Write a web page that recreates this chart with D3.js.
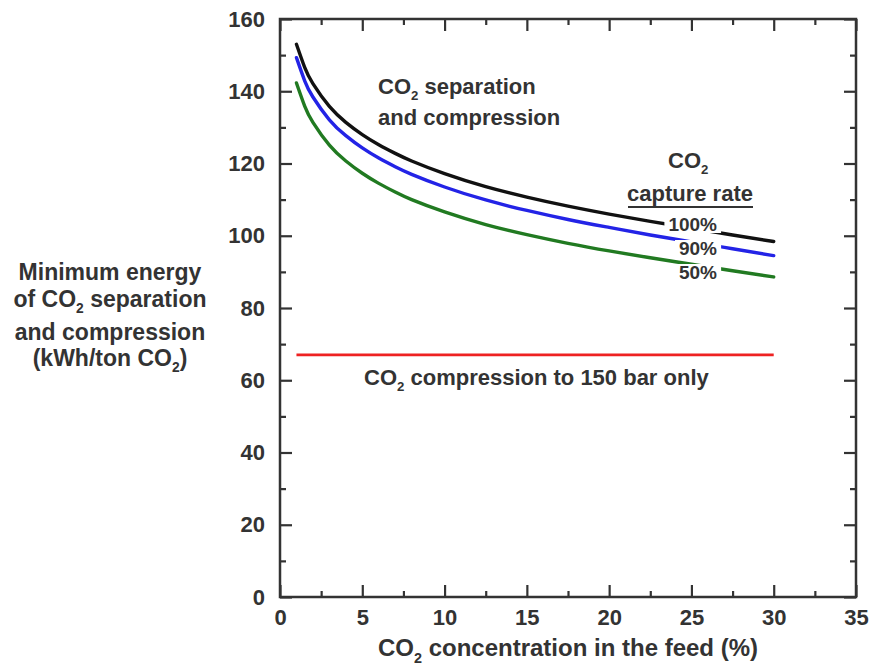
<!DOCTYPE html>
<html><head><meta charset="utf-8">
<script src="https://cdn.jsdelivr.net/npm/d3@7"></script>
<style>
body{margin:0;background:#fff;}
svg text{font-family:"Liberation Sans",Arial,Helvetica,sans-serif;font-weight:bold;fill:#333;}
</style></head>
<body><svg id="c" width="873" height="667"></svg>
<script>
// ---- data ----
const feedCO2 = [1,1.5,2,3,4,5,6,7,8,10,12.5,15,17.5,20,22.5,25,27.5,30];
const capture100 = [153.0,146.6,142.1,135.8,131.4,128.0,125.2,122.8,120.7,117.2,113.6,110.7,108.2,106.0,104.0,102.1,100.2,98.4];
const capture90  = [149.3,142.9,138.4,132.1,127.7,124.3,121.5,119.1,117.0,113.5,109.9,107.0,104.5,102.3,100.2,98.3,96.4,94.5];
const capture50  = [142.3,135.9,131.4,125.1,120.7,117.3,114.5,112.1,110.0,106.6,103.1,100.3,97.9,95.8,93.9,92.1,90.3,88.6];
const compressionX = [1,30];
const compressionOnly = [67,67];
const xTicks = [0,5,10,15,20,25,30,35];
const yTicks = [0,20,40,60,80,100,120,140,160];
const seriesLabels = ["100%","90%","50%"];

const svg = d3.select("#c");
const L=280,R=856,T=19,B=597;
const x = d3.scaleLinear().domain([0,35]).range([L,R]);
const y = d3.scaleLinear().domain([0,160]).range([B,T]);
const axisColor="#333";

function styleAxis(g){
  g.select(".domain").remove();
  g.selectAll("line").attr("stroke",axisColor).attr("stroke-width",2.2);
  g.selectAll("text").style("font-size","22px").attr("fill","#333");
}
// minor ticks
const xMinor = d3.range(0,35.01,2.5).filter(v=>v%5!==0);
const yMinor = d3.range(0,160.01,10).filter(v=>v%20!==0);
svg.append("g").attr("transform",`translate(0,${B})`).call(d3.axisBottom(x).tickValues(xMinor).tickSize(-6).tickFormat("")).call(styleAxis);
svg.append("g").attr("transform",`translate(0,${T})`).call(d3.axisTop(x).tickValues(xMinor).tickSize(-6).tickFormat("")).call(styleAxis);
svg.append("g").attr("transform",`translate(${L},0)`).call(d3.axisLeft(y).tickValues(yMinor).tickSize(-6).tickFormat("")).call(styleAxis);
svg.append("g").attr("transform",`translate(${R},0)`).call(d3.axisRight(y).tickValues(yMinor).tickSize(-6).tickFormat("")).call(styleAxis);
// major
svg.append("g").attr("transform",`translate(0,${B})`).call(d3.axisBottom(x).tickValues(xTicks).tickSize(-12).tickPadding(12).tickFormat(d3.format("d"))).call(styleAxis);
svg.append("g").attr("transform",`translate(0,${T})`).call(d3.axisTop(x).tickValues(xTicks).tickSize(-12).tickFormat("")).call(styleAxis);
svg.append("g").attr("transform",`translate(${L},0)`).call(d3.axisLeft(y).tickValues(yTicks).tickSize(-12).tickPadding(15).tickFormat(d3.format("d"))).call(styleAxis);
svg.append("g").attr("transform",`translate(${R},0)`).call(d3.axisRight(y).tickValues(yTicks).tickSize(-12).tickFormat("")).call(styleAxis);
// frame
svg.append("rect").attr("x",L).attr("y",T).attr("width",R-L).attr("height",B-T)
  .attr("fill","none").attr("stroke",axisColor).attr("stroke-width",2.5);

// curves
const line = d3.line().x(d=>x(d[0])).y(d=>y(d[1])).curve(d3.curveNatural);
const series = [
  {vals:capture100,color:"#111111"},
  {vals:capture90,color:"#2323e6"},
  {vals:capture50,color:"#217a21"}
];
series.forEach(s=>{
  svg.append("path").datum(feedCO2.map((v,i)=>[v,s.vals[i]]))
    .attr("d",line).attr("fill","none").attr("stroke",s.color).attr("stroke-width",3.4)
    .attr("stroke-linecap","round");
});
svg.append("path").datum(compressionX.map((v,i)=>[v,compressionOnly[i]]))
  .attr("d",d3.line().x(d=>x(d[0])).y(d=>y(d[1])))
  .attr("fill","none").attr("stroke","#ee2222").attr("stroke-width",2.8);

// text helper with CO2 subscript
function co2Text(g, xPos, yPos, before, after, size, anchor){
  const t = g.append("text").attr("x",xPos).attr("y",yPos).style("font-size",size+"px")
    .attr("text-anchor",anchor||"start");
  t.append("tspan").text(before+"CO");
  t.append("tspan").text("2").style("font-size",(size*0.6)+"px").attr("dy",size*0.28);
  t.append("tspan").text(after).attr("dy",-size*0.28);
  return t;
}

// percentage labels with white backgrounds that cut the curves
const pctY=[231,255,279];
seriesLabels.forEach((lab,i)=>{
  const t = svg.append("text").attr("x",717).attr("y",pctY[i]).attr("text-anchor","end")
    .style("font-size","19px").text(lab);
  const bb = t.node().getBBox();
  svg.insert("rect", () => t.node()).attr("x",bb.x-4).attr("y",bb.y+2).attr("width",bb.width+8).attr("height",bb.height-4).attr("fill","#fff");
});

// annotations
co2Text(svg,378,94,""," separation",22);
svg.append("text").attr("x",378).attr("y",125).style("font-size","22px").text("and compression");
co2Text(svg,668,168,"","",22);
svg.append("text").attr("x",690).attr("y",201).attr("text-anchor","middle").style("font-size","22px").text("capture rate");
svg.append("line").attr("x1",628).attr("x2",753).attr("y1",207).attr("y2",207).attr("stroke","#333").attr("stroke-width",2);
co2Text(svg,364,385,""," compression to 150 bar only",22);

// axis titles
co2Text(svg,568,656,""," concentration in the feed (%)",24,"middle");
svg.append("text").attr("x",110).attr("y",280).attr("text-anchor","middle").style("font-size","23px").text("Minimum energy");
co2Text(svg,110,307,"of "," separation",23,"middle");
svg.append("text").attr("x",110).attr("y",340).attr("text-anchor","middle").style("font-size","23px").text("and compression");
co2Text(svg,110,366,"(kWh/ton ",")",23,"middle");
</script></body></html>
